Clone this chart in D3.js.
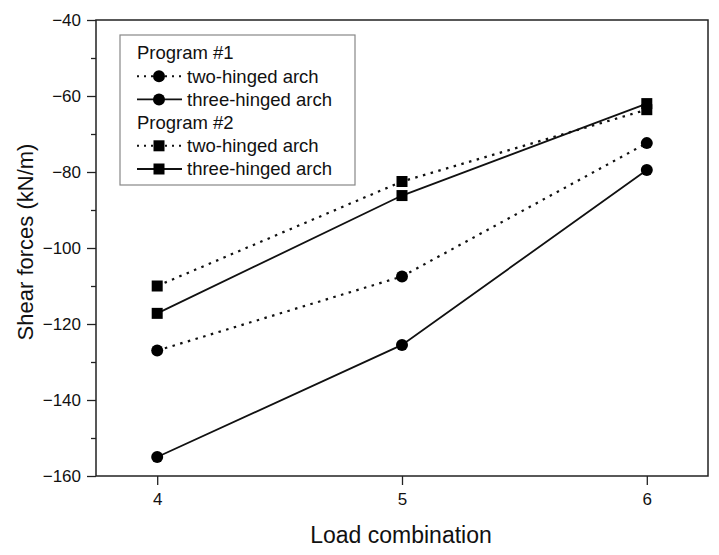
<!DOCTYPE html>
<html>
<head>
<meta charset="utf-8">
<script src="https://cdn.jsdelivr.net/npm/d3@7"></script>
<style>
  body { margin: 0; background: #fff; }
  text { font-family: "Liberation Sans", Arial, sans-serif; fill: #111; }
</style>
</head>
<body>
<div id="chart"></div>
<script>
// load combinations on the x axis
var loadCombos = [4, 5, 6]

// shear forces (kN/m) per series
var p1TwoHinged = [-127, -107.5, -72.4]
var p1ThreeHinged = [-155, -125.5, -79.5]
var p2TwoHinged = [-110, -82.5, -63.6]
var p2ThreeHinged = [-117.2, -86.2, -62]

var yTicks = [-160, -140, -120, -100, -80, -60, -40]
var yMinorTicks = [-150, -130, -110, -90, -70, -50]

var series = [
  { name: "two-hinged arch", values: p1TwoHinged, marker: "circle", dashed: true },
  { name: "three-hinged arch", values: p1ThreeHinged, marker: "circle", dashed: false },
  { name: "two-hinged arch", values: p2TwoHinged, marker: "square", dashed: true },
  { name: "three-hinged arch", values: p2ThreeHinged, marker: "square", dashed: false }
]

var width = 719,
    height = 555,
    margin = { top: 20, right: 11, bottom: 79, left: 96 }

var svg = d3.select("#chart")
  .append("svg")
    .attr("width", width)
    .attr("height", height)

var x = d3.scaleLinear()
  .domain([3.75, 6.25])
  .range([margin.left, width - margin.right])

var y = d3.scaleLinear()
  .domain([-160, -40])
  .range([height - margin.bottom, margin.top])

// frame
svg.append("rect")
  .attr("x", margin.left)
  .attr("y", margin.top)
  .attr("width", width - margin.left - margin.right)
  .attr("height", height - margin.top - margin.bottom)
  .attr("fill", "none")
  .attr("stroke", "#222")
  .attr("stroke-width", 1.5)

// x axis
var xAxis = svg.append("g")
  .attr("transform", "translate(0," + (height - margin.bottom) + ")")
  .call(d3.axisBottom(x).tickValues(loadCombos).tickFormat(d3.format("d")).tickSize(9).tickPadding(8))
xAxis.select(".domain").remove()
xAxis.selectAll("line").attr("stroke", "#222").attr("stroke-width", 1.3)
xAxis.selectAll("text").style("font-size", "17px")

// y axis
var yAxis = svg.append("g")
  .attr("transform", "translate(" + margin.left + ",0)")
  .call(d3.axisLeft(y).tickValues(yTicks).tickFormat(d3.format("d")).tickSize(9).tickPadding(6))
yAxis.select(".domain").remove()
yAxis.selectAll("line").attr("stroke", "#222").attr("stroke-width", 1.3)
yAxis.selectAll("text").style("font-size", "17px")

var yMinor = svg.append("g")
  .attr("transform", "translate(" + margin.left + ",0)")
  .call(d3.axisLeft(y).tickValues(yMinorTicks).tickFormat("").tickSize(5))
yMinor.select(".domain").remove()
yMinor.selectAll("line").attr("stroke", "#222").attr("stroke-width", 1.3)

// axis titles
svg.append("text")
  .attr("x", 401)
  .attr("y", 543)
  .attr("text-anchor", "middle")
  .style("font-size", "23px")
  .text("Load combination")

svg.append("text")
  .attr("transform", "translate(33,242) rotate(-90)")
  .attr("text-anchor", "middle")
  .style("font-size", "22px")
  .text("Shear forces (kN/m)")

// lines and markers
var line = d3.line()
  .x(function(d, i) { return x(loadCombos[i]) })
  .y(function(d) { return y(d) })

function drawMarker(g, kind, cx, cy) {
  if (kind === "circle") {
    g.append("circle").attr("cx", cx).attr("cy", cy).attr("r", 6).attr("fill", "#000")
  } else {
    g.append("rect").attr("x", cx - 5.5).attr("y", cy - 5.5).attr("width", 11).attr("height", 11).attr("fill", "#000")
  }
}

series.forEach(function(s) {
  svg.append("path")
    .datum(s.values)
    .attr("d", line)
    .attr("fill", "none")
    .attr("stroke", "#111")
    .attr("stroke-width", s.dashed ? 2.2 : 1.8)
    .attr("stroke-dasharray", s.dashed ? "2.5,5.5" : null)
  var g = svg.append("g")
  s.values.forEach(function(v, i) {
    drawMarker(g, s.marker, x(loadCombos[i]), y(v))
  })
})

// legend
var legend = svg.append("g")
legend.append("rect")
  .attr("x", 120).attr("y", 35)
  .attr("width", 235).attr("height", 150)
  .attr("fill", "#fff")
  .attr("stroke", "#888")
  .attr("stroke-width", 1.2)

var rows = [
  { title: "Program #1" },
  series[0], series[1],
  { title: "Program #2" },
  series[2], series[3]
]

rows.forEach(function(r, i) {
  var cy = 53 + i * 23.2
  if (r.title) {
    legend.append("text")
      .attr("x", 137).attr("y", cy)
      .attr("dy", "0.35em")
      .style("font-size", "18.5px")
      .text(r.title)
  } else {
    legend.append("line")
      .attr("x1", 137).attr("x2", 182)
      .attr("y1", cy).attr("y2", cy)
      .attr("stroke", "#111")
      .attr("stroke-width", r.dashed ? 2 : 1.8)
      .attr("stroke-dasharray", r.dashed ? "2,5" : null)
    drawMarker(legend, r.marker, 159, cy)
    legend.append("text")
      .attr("x", 187).attr("y", cy)
      .attr("dy", "0.35em")
      .style("font-size", "18.5px")
      .text(r.name)
  }
})
</script>
</body>
</html>
